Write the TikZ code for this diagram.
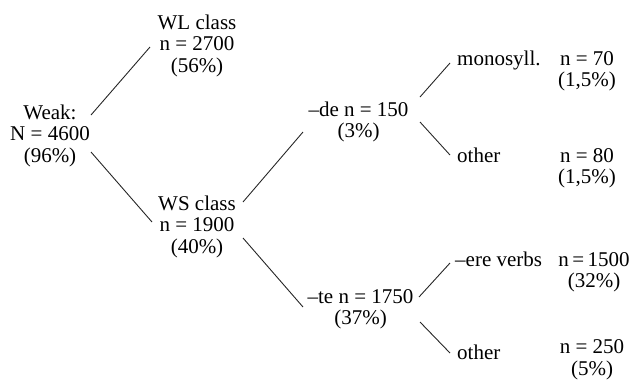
\documentclass[tikz,border=0pt]{standalone}
\usepackage{fontspec}
\setmainfont{Liberation Serif}
\begin{document}
\begin{tikzpicture}[x=1pt,y=-1pt,
  lbl/.style={inner sep=0pt, align=center, anchor=base, font=\fontsize{21}{21.5}\selectfont},
  leaf/.style={inner sep=0pt, anchor=base west, font=\fontsize{21}{21.5}\selectfont},
  edge/.style={line width=0.9pt, black!85}]
\useasboundingbox (0,0) rectangle (631,384);
% nodes (base anchor = baseline of the last line)
\node[lbl] (weak) at (50,162) {Weak:\\N = 4600\\(96\%)};
\node[lbl] (wl) at (197,72) {WL class\\n = 2700\\(56\%)};
\node[lbl] (ws) at (197,253) {WS class\\n = 1900\\(40\%)};
\node[lbl] (de) at (358.5,137.5) {–de n = 150\\(3\%)};
\node[lbl] (te) at (360.5,324.5) {–te n = 1750\\(37\%)};
\node[leaf] (mono) at (457,65) {monosyll.};
\node[leaf] (oth1) at (457,162) {other};
\node[leaf] (ere) at (455,266) {–ere verbs};
\node[leaf] (oth2) at (457,359) {other};
\node[lbl] (monon) at (587,86.5) {n = 70\\(1,5\%)};
\node[lbl] (oth1n) at (587,183.5) {n = 80\\(1,5\%)};
\node[lbl] (eren) at (594,287.5) {n\,=\,1500\\(32\%)};
\node[lbl] (oth2n) at (592,375) {n = 250\\(5\%)};
% connectors
\draw[edge] ([shift={(41,-47)}]weak.base) -- ([shift={(-47,-25)}]wl.base);
\draw[edge] ([shift={(41,-10)}]weak.base) -- ([shift={(-45,-31)}]ws.base);
\draw[edge] ([shift={(46,-51)}]ws.base) -- ([shift={(-55.5,-5.5)}]de.base);
\draw[edge] ([shift={(46,-15)}]ws.base) -- ([shift={(-57.5,-17.5)}]te.base);
\draw[edge] ([shift={(61.5,-40.5)}]de.base) -- ([shift={(-7,-2)}]mono.base west);
\draw[edge] ([shift={(61.5,-15.5)}]de.base) -- ([shift={(-7,-7)}]oth1.base west);
\draw[edge] ([shift={(58.5,-27.5)}]te.base) -- ([shift={(-5,-3)}]ere.base west);
\draw[edge] ([shift={(59.5,-2.5)}]te.base) -- ([shift={(-7,-6)}]oth2.base west);
\end{tikzpicture}
\end{document}
